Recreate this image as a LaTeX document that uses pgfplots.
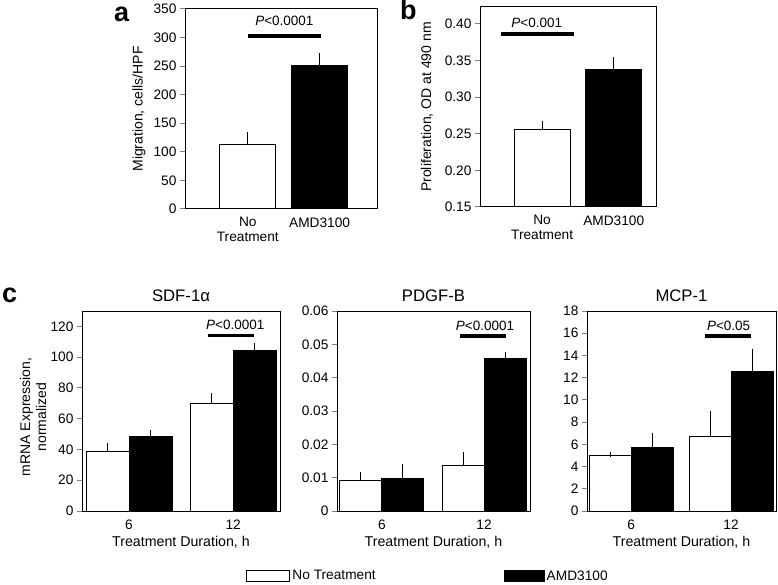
\documentclass[border=0pt]{standalone}
\usepackage{pgfplots}
\pgfplotsset{compat=1.18}
\usepackage{fontspec}
\setmainfont{Liberation Sans}

\pgfplotsset{
  panel/.style={
    scale only axis, anchor=south west,
    axis line style={line width=1pt},
    tick align=outside, ytick pos=left, xtick pos=bottom,
    major tick length=5pt,
    xtick style={draw=none},
    ytick style={line width=1pt},
    font=\fontsize{14}{16}\selectfont,
    tick label style={font=\fontsize{13.7}{15}\selectfont},
    xlabel style={font=\fontsize{14.2}{16}\selectfont},
    ylabel style={font=\fontsize{14}{16}\selectfont},
    /pgf/number format/assume math mode=true,
    scaled y ticks=false,
    ymin=0, xtick={1,2},
    title style={font=\fontsize{16.7}{18}\selectfont},
    every axis plot/.append style={line width=1pt, draw=black},
    error bars/y dir=plus, error bars/y explicit,
    error bars/error bar style={line width=1pt, black},
    error bars/error mark options={mark size=2.5pt, line width=1pt, black},
  },
  whitebar/.style={fill=white, draw=black,
    legend image code/.code={\draw[line width=1pt,fill=white,draw=black] (0pt,-5.5pt) rectangle (43pt,5.5pt);}},
  blackbar/.style={fill=black, draw=black,
    legend image code/.code={\draw[line width=1pt,fill=black,draw=black] (0pt,-5.5pt) rectangle (40pt,5.5pt);}},
}
\newcommand{\pfont}{\fontsize{13.5}{15}\selectfont}

\begin{document}
\begin{tikzpicture}
\useasboundingbox (0,0) rectangle (778pt,584pt);

% ---------------- panel a
\begin{axis}[panel, at={(185pt,375pt)}, width=192pt, height=200pt,
  xmin=0.125, xmax=2.8, ymax=350, ytick={0,50,100,150,200,250,300,350},
  xticklabels={{No\\Treatment},AMD3100},
  xticklabel style={align=center, font=\fontsize{13.7}{14.5}\selectfont},
  ylabel={Migration, cells/HPF},
  ylabel style={at={(rel axis cs:0,0.5)}, anchor=center, yshift=46pt},
  ybar, bar width=56pt]
\addplot[whitebar, bar shift=0pt] coordinates {(1,113) +- (0,16.5)};
\addplot[blackbar, bar shift=0pt] coordinates {(2,250.5) +- (0,18.5)};
\draw[line width=4pt] (axis cs:1.0,302) -- (axis cs:2.02,302);
\node[font=\pfont] at (axis cs:1.51,329) {\textit{P}<0.0001};
\end{axis}

% ---------------- panel b
\begin{axis}[panel, at={(480pt,377pt)}, width=176pt, height=200pt,
  xmin=0.133, xmax=2.59, ymin=0.15, ymax=0.423,
  ytick={0.15,0.20,0.25,0.30,0.35,0.40},
  yticklabel style={/pgf/number format/.cd, fixed, fixed zerofill, precision=2},
  xticklabels={{No\\Treatment},AMD3100},
  xticklabel style={align=center, font=\fontsize{13.7}{14.5}\selectfont},
  ylabel={Proliferation, OD at 490 nm},
  ylabel style={at={(rel axis cs:0,0.5)}, anchor=center, yshift=53pt},
  ybar, bar width=56pt]
\addplot[whitebar, bar shift=0pt] coordinates {(1,0.2555) +- (0,0.009)};
\addplot[blackbar, bar shift=0pt] coordinates {(2,0.3375) +- (0,0.0135)};
\draw[line width=4pt] (axis cs:0.42,0.386) -- (axis cs:1.45,0.386);
\node[font=\pfont] at (axis cs:0.926,0.402) {\textit{P}<0.001};
\end{axis}

% ---------------- panel c : SDF-1alpha
\begin{axis}[panel, at={(82pt,73pt)}, width=198pt, height=200pt,
  xmin=0.548, xmax=2.45, ymax=130, ytick={0,20,40,60,80,100,120},
  xticklabels={6,12},
  title={SDF-1α},
  xlabel={Treatment Duration, h},
  ylabel={mRNA Expression,\\normalized},
  ylabel style={at={(rel axis cs:0,0.47)}, anchor=center, align=center, yshift=49pt},
  ybar=0pt, bar width=43pt]
\addplot[whitebar] coordinates {(1,38.6) +- (0,3.7) (2,70) +- (0,4.8)};
\addplot[blackbar] coordinates {(1,48.4) +- (0,2.6) (2,104.6) +- (0,2.8)};
\draw[line width=3.5pt] (axis cs:1.76,114) -- (axis cs:2.2,114);
\node[font=\pfont] at (axis cs:2.02,121) {\textit{P}<0.0001};
\end{axis}

% ---------------- panel c : PDGF-B
\begin{axis}[panel, at={(337pt,73pt)}, width=193pt, height=200pt,
  xmin=0.56, xmax=2.45, ymax=0.06, ytick={0,0.01,0.02,0.03,0.04,0.05,0.06},
  yticklabel style={/pgf/number format/.cd, fixed, precision=2},
  xticklabels={6,12},
  title={PDGF-B},
  xlabel={Treatment Duration, h},
  ybar=0pt, bar width=42pt,
  legend style={at={(rel axis cs:-0.47,-0.325)}, anchor=west, draw=none, fill=none,
    inner sep=0pt, legend columns=2, font=\fontsize{13.7}{15}\selectfont,
    /tikz/every even column/.append style={column sep=126pt}}]
\addplot[whitebar] coordinates {(1,0.0093) +- (0,0.0017) (2,0.0138) +- (0,0.0031)};
\addplot[blackbar] coordinates {(1,0.0098) +- (0,0.0035) (2,0.0458) +- (0,0.0011)};
\draw[line width=3.5pt] (axis cs:1.765,0.0525) -- (axis cs:2.215,0.0525);
\node[font=\pfont] at (axis cs:2.01,0.0555) {\textit{P}<0.0001};
\legend{No Treatment, AMD3100}
\end{axis}

% ---------------- panel c : MCP-1
\begin{axis}[panel, at={(587pt,73pt)}, width=189pt, height=200pt,
  xmin=0.557, xmax=2.45, ymax=18, ytick={0,2,4,6,8,10,12,14,16,18},
  xticklabels={6,12},
  title={MCP-1},
  xlabel={Treatment Duration, h},
  ybar=0pt, bar width=42pt]
\addplot[whitebar] coordinates {(1,4.98) +- (0,0.08) (2,6.69) +- (0,2.1)};
\addplot[blackbar] coordinates {(1,5.73) +- (0,1.11) (2,12.6) +- (0,1.8)};
\draw[line width=3.5pt] (axis cs:1.743,15.75) -- (axis cs:2.203,15.75);
\node[font=\pfont] at (axis cs:1.975,16.65) {\textit{P}<0.05};
\end{axis}

% panel letters
\node[anchor=base west, font=\fontsize{27}{30}\selectfont\bfseries, inner sep=0pt] at (114pt,562pt) {a};
\node[anchor=base west, font=\fontsize{27}{30}\selectfont\bfseries, inner sep=0pt] at (400pt,564pt) {b};
\node[anchor=base west, font=\fontsize{27}{30}\selectfont\bfseries, inner sep=0pt] at (2pt,281pt) {c};
\end{tikzpicture}
\end{document}
